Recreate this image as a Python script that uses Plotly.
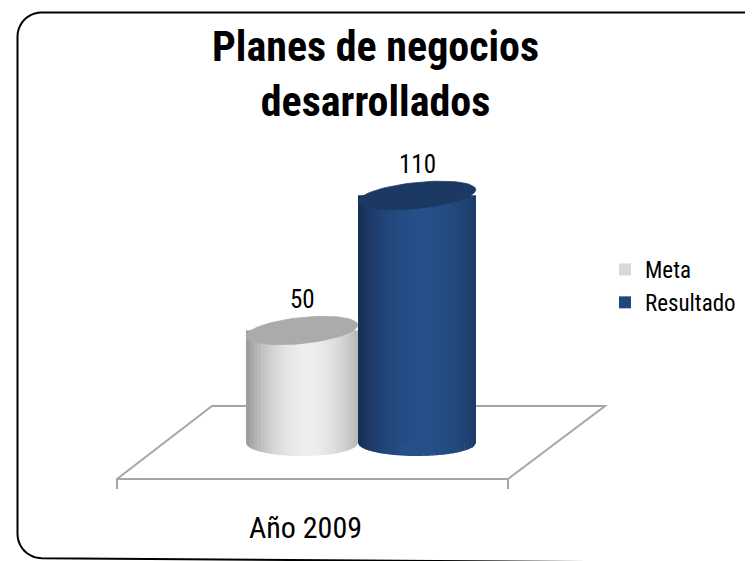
import math
import plotly.graph_objects as go

# ---------------- data ----------------
categories = ["Año 2009"]
series_names = ["Meta", "Resultado"]
meta_values = [50]
resultado_values = [110]
title_text = "Planes de negocios<br>desarrollados"

# ---------------- layout constants ----------------
W, H = 753, 561
OFF = 8.0              # page margin: screen px = figure px + OFF
X0_SCR = 358.0         # screen pixel of x = 0 (between the two cylinders)
X_SCALE = 115.0        # pixels per x unit
Y0_SCR = 443.0         # screen pixel of value 0 (cylinder base centre)
Y_SCALE = 2.25         # pixels per value unit
RY_PIX = 13.0          # semi-minor axis of cylinder ellipses (px)
TILT = math.radians(-6)

FONT = "Roboto Condensed, Liberation Sans Narrow, Arial Narrow, sans-serif"

def px_to_x(sx):
    return (sx - X0_SCR) / X_SCALE

def py_to_y(sy):
    return (Y0_SCR - sy) / Y_SCALE

def paper(sx, sy):
    return (sx - OFF) / W, 1 - (sy - OFF) / H

styles = {
    "Meta": dict(offset=-112 / 115, width=112 / 115, legend="#d9d9d9",
                 dark=(150, 150, 150), light=(238, 238, 238), cap="#ababab"),
    "Resultado": dict(offset=0.0, width=118 / 115, legend="#1f497d",
                      dark=(22, 46, 82), light=(38, 80, 138), cap="#1b3962"),
}

fig = go.Figure()

# bar traces (legend + base body)
for name, vals in zip(series_names, [meta_values, resultado_values]):
    st = styles[name]
    fig.add_trace(go.Bar(
        x=[0] * len(vals), y=vals, name=name, offset=st["offset"], width=st["width"],
        marker=dict(color=st["legend"], line=dict(width=0)),
        legendgroup=name, hoverinfo="skip",
    ))

def shade(st, u):
    t = (u - 0.55) / 0.55 * (math.pi / 2)
    f = max(math.cos(t), 0) ** 0.8
    c = [int(round(d + (l - d) * f)) for d, l in zip(st["dark"], st["light"])]
    return "rgb(%d,%d,%d)" % tuple(c)

NSTRIP = 30
PAD = 0.6 / X_SCALE
for name, vals in zip(series_names, [meta_values, resultado_values]):
    st = styles[name]
    for ci, v in enumerate(vals):
        xl = ci + st["offset"]
        xr = xl + st["width"]
        cx_scr = X0_SCR + (xl + xr) / 2 * X_SCALE
        a_pix = (xr - xl) / 2 * X_SCALE
        ry = RY_PIX / Y_SCALE
        for i in range(NSTRIP):
            u0, u1 = i / NSTRIP, (i + 1) / NSTRIP
            xa = xl + (xr - xl) * u0
            xb = min(xr, xl + (xr - xl) * u1 + PAD)
            ub = (xb - xl) / (xr - xl)
            xs = [xa, xb]
            ys = [v, v]
            for k in range(5):
                uu = ub - (ub - u0) * k / 4
                s = 2 * uu - 1
                xs.append(xl + (xr - xl) * uu)
                ys.append(-ry * math.sqrt(max(0.0, 1 - s * s)))
            col = shade(st, (u0 + u1) / 2)
            fig.add_trace(go.Scatter(
                x=xs, y=ys, fill="toself", mode="lines", fillcolor=col,
                line=dict(color=col, width=0), showlegend=False, hoverinfo="skip",
            ))
        cy_scr = Y0_SCR - v * Y_SCALE
        xs, ys = [], []
        for k in range(73):
            t = 2 * math.pi * k / 72
            dx = a_pix * math.cos(t)
            dy = RY_PIX * math.sin(t)
            rx = dx * math.cos(TILT) - dy * math.sin(TILT)
            rr = dx * math.sin(TILT) + dy * math.cos(TILT)
            xs.append(px_to_x(cx_scr + rx))
            ys.append(py_to_y(cy_scr + rr))
        fig.add_trace(go.Scatter(
            x=xs, y=ys, fill="toself", mode="lines", fillcolor=st["cap"],
            line=dict(color=st["cap"], width=0.8), showlegend=False, hoverinfo="skip",
        ))
        fig.add_annotation(
            x=(xl + xr) / 2, y=v, text=str(v), showarrow=False,
            yshift=31, font=dict(family=FONT, size=25, color="#000000"),
        )

# ---------------- floor outline ----------------
def path_from(points, close=False):
    segs = []
    for i, (sx, sy) in enumerate(points):
        x, y = paper(sx, sy)
        segs.append(("M" if i == 0 else "L") + " %.5f %.5f" % (x, y))
    return " ".join(segs) + (" Z" if close else "")

fig.add_shape(type="path", xref="paper", yref="paper", layer="below",
              path=path_from([(117, 489), (117, 479), (508, 479), (508, 489)]),
              line=dict(color="#a6a6a6", width=2))
fig.add_shape(type="path", xref="paper", yref="paper", layer="below",
              path=path_from([(117, 479), (212, 406), (605, 406), (508, 479)]),
              line=dict(color="#a6a6a6", width=2))

# ---------------- rounded border (bottom/right run off the canvas) ----------------
bx0, by0, bx1, by1, rad = 17.5, 12.5, 770.0, 558.0, 24.0
pts = []
def arc(cx, cy, a0, a1, n=10):
    for k in range(n + 1):
        t = math.radians(a0 + (a1 - a0) * k / n)
        pts.append((cx + rad * math.cos(t), cy + rad * math.sin(t)))
arc(bx0 + rad, by0 + rad, 180, 270)
arc(bx1 - rad, by0 + rad, 270, 360)
arc(bx1 - rad, by1 - rad, 0, 90)
arc(bx0 + rad, by1 - rad, 90, 180)
# slight skew of the bottom edge so it leaves the canvas to the right
pts = [(sx, sy + (0.007 * (sx - bx0) if sy > 500 else 0.0)) for sx, sy in pts]
fig.add_shape(type="path", xref="paper", yref="paper", layer="above",
              path=path_from(pts, close=True), line=dict(color="#000000", width=2))

# ---------------- texts ----------------
tx, ty = paper(375, 74)
fig.add_annotation(xref="paper", yref="paper", x=tx, y=ty, text="<b>" + title_text + "</b>",
                   showarrow=False, xanchor="center", yanchor="middle",
                   font=dict(family=FONT, size=42, color="#000000"))
cx_, cy_ = paper(305, 527)
fig.add_annotation(xref="paper", yref="paper", x=cx_, y=cy_, text=categories[0],
                   showarrow=False, xanchor="center", yanchor="middle",
                   font=dict(family=FONT, size=30, color="#000000"))

lx, ly = paper(605, 248)
fig.update_layout(
    width=W, height=H,
    margin=dict(l=0, r=0, t=0, b=0),
    paper_bgcolor="white", plot_bgcolor="white",
    barmode="overlay",
    xaxis=dict(range=[px_to_x(OFF), px_to_x(W + OFF)], visible=False, fixedrange=True),
    yaxis=dict(range=[py_to_y(H + OFF), py_to_y(OFF)], visible=False, fixedrange=True),
    legend=dict(x=lx, y=ly, xanchor="left", yanchor="top",
                font=dict(family=FONT, size=23, color="#000000"),
                bgcolor="rgba(0,0,0,0)", tracegroupgap=0, itemwidth=30),
    showlegend=True,
)

fig.write_html("out.html")
